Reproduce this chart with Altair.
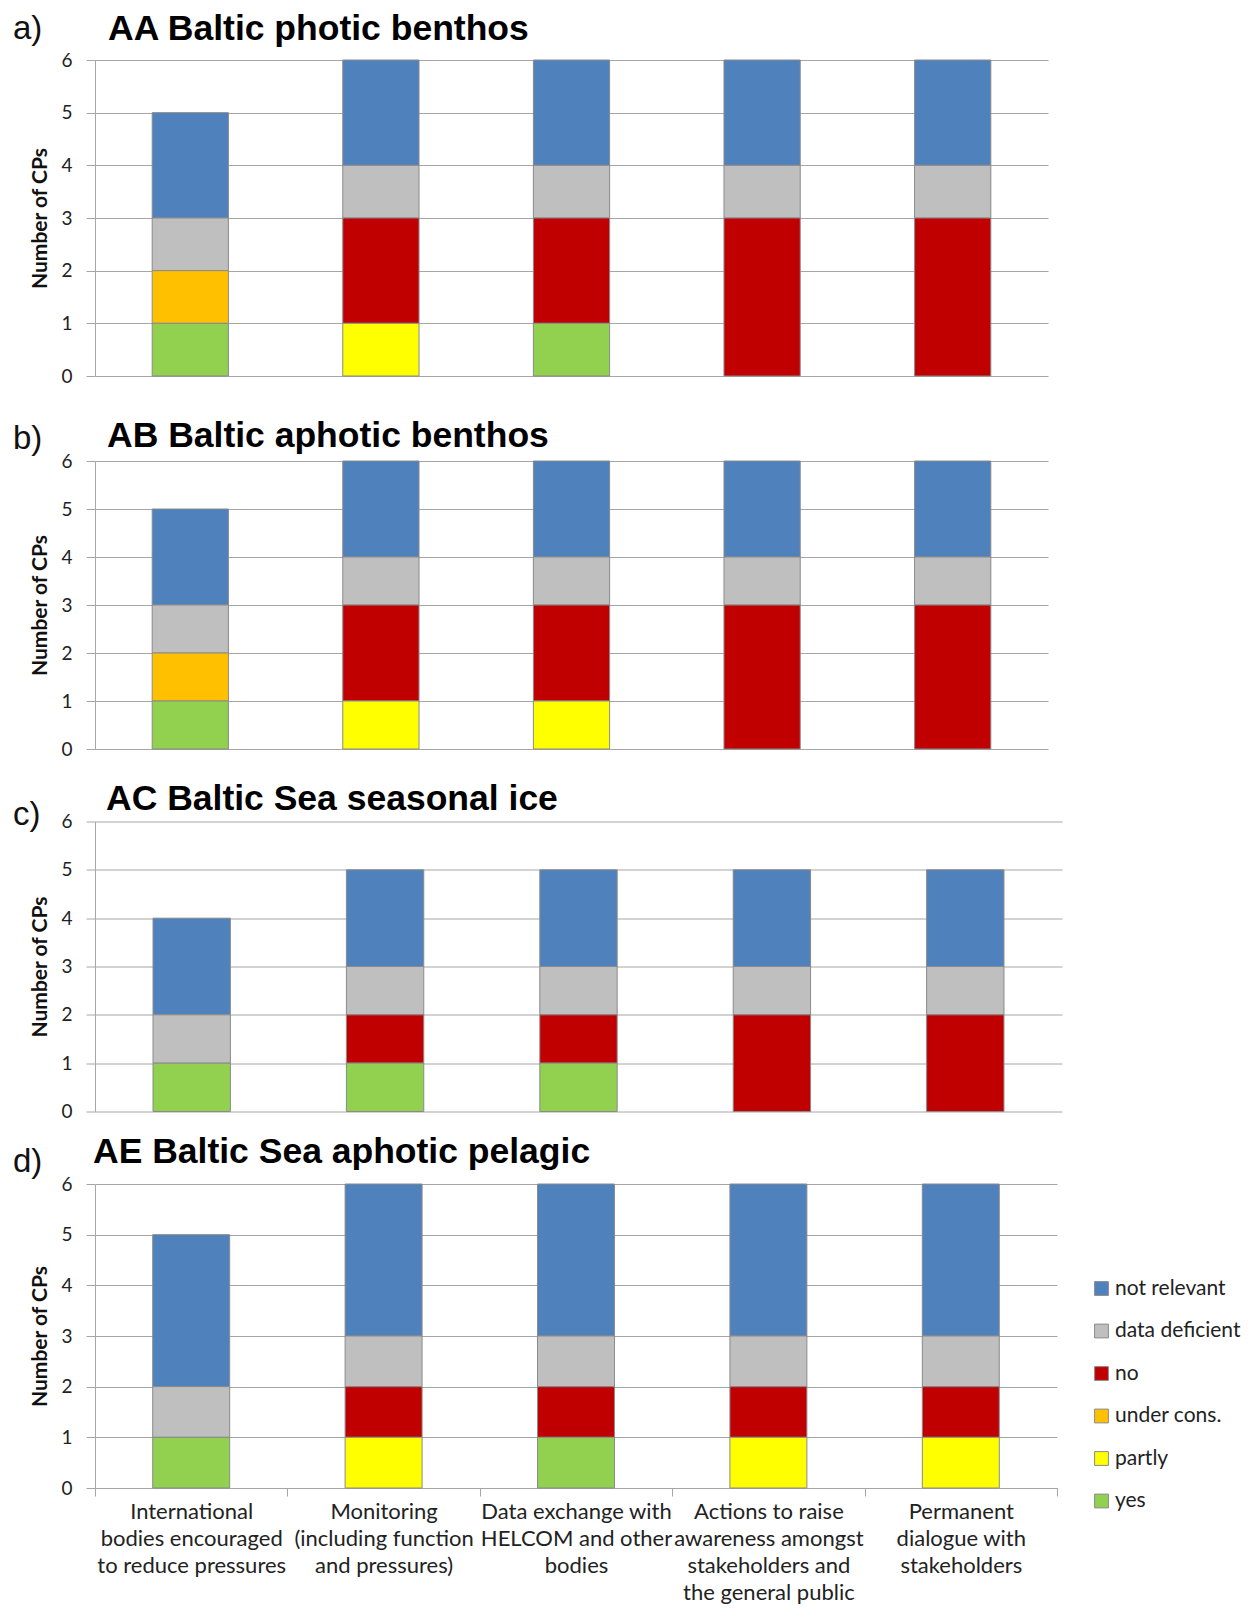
import altair as alt
import pandas as pd

categories = [
    "International|bodies encouraged|to reduce pressures",
    "Monitoring|(including function|and pressures)",
    "Data exchange with|HELCOM and other|bodies",
    "Actions  to raise|awareness amongst|stakeholders and|the general public",
    "Permanent|dialogue with|stakeholders",
]
statuses = ["not relevant", "data deficient", "no", "under cons.", "partly", "yes"]
colors = ["#4F81BD", "#BFBFBF", "#C00000", "#FFC000", "#FFFF00", "#92D050"]

panel_letters = ["a)", "b)", "c)", "d)"]
panel_titles = [
    "AA Baltic photic benthos",
    "AB Baltic aphotic benthos",
    "AC Baltic Sea seasonal ice",
    "AE Baltic Sea aphotic pelagic",
]

# counts per category (same order as categories), per status
aa_counts = {
    "not relevant":   [2, 2, 2, 2, 2],
    "data deficient": [1, 1, 1, 1, 1],
    "no":             [0, 2, 2, 3, 3],
    "under cons.":    [1, 0, 0, 0, 0],
    "partly":         [0, 1, 0, 0, 0],
    "yes":            [1, 0, 1, 0, 0],
}
ab_counts = {
    "not relevant":   [2, 2, 2, 2, 2],
    "data deficient": [1, 1, 1, 1, 1],
    "no":             [0, 2, 2, 3, 3],
    "under cons.":    [1, 0, 0, 0, 0],
    "partly":         [0, 1, 1, 0, 0],
    "yes":            [1, 0, 0, 0, 0],
}
ac_counts = {
    "not relevant":   [2, 2, 2, 2, 2],
    "data deficient": [1, 1, 1, 1, 1],
    "no":             [0, 1, 1, 2, 2],
    "under cons.":    [0, 0, 0, 0, 0],
    "partly":         [0, 0, 0, 0, 0],
    "yes":            [1, 1, 1, 0, 0],
}
ae_counts = {
    "not relevant":   [3, 3, 3, 3, 3],
    "data deficient": [1, 1, 1, 1, 1],
    "no":             [0, 1, 1, 1, 1],
    "under cons.":    [0, 0, 0, 0, 0],
    "partly":         [0, 1, 0, 1, 1],
    "yes":            [1, 0, 1, 0, 0],
}
y_ticks = [0, 1, 2, 3, 4, 5, 6]

FONT = "Lato"
HEAD_FONT = "Liberation Sans"
GRID = "#a6a6a6"


def make_df(counts):
    rows = []
    for s_i, s in enumerate(statuses):
        for c_i, c in enumerate(categories):
            v = counts[s][c_i]
            if v > 0:
                rows.append({"category": c, "status": s, "count": v,
                             "rank": len(statuses) - 1 - s_i})
    return pd.DataFrame(rows)


def panel(counts, letter, title, width, height, title_dx, title_y, letter_y, last):
    df = make_df(counts)
    if last:
        x_axis = alt.Axis(title=None, labelAngle=0, tickBand="extent",
                          labelExpr="split(datum.label, '|')",
                          labelFont=FONT, labelFontSize=22, labelColor="#222",
                          labelLineHeight=27.3, labelPadding=5, labelLimit=400,
                          tickSize=8, tickColor=GRID, domainColor=GRID,
                          grid=False, labelBaseline="top")
        legend = alt.Legend(title=None, orient="none", legendX=996, legendY=94,
                            symbolType="square", symbolSize=190,
                            symbolStrokeWidth=1, labelFont=FONT, labelFontSize=21,
                            labelColor="#222", labelOffset=3, rowPadding=20.5,
                            padding=0)
    else:
        x_axis = None
        legend = None

    bars = alt.Chart(df).mark_bar(
        width=alt.RelativeBandSize(0.4), stroke="#8a8a8a", strokeWidth=1
    ).encode(
        x=alt.X("category:N", sort=categories, axis=x_axis,
                scale=alt.Scale(paddingInner=0, paddingOuter=0, domain=categories)),
        y=alt.Y("sum(count):Q", stack="zero",
                scale=alt.Scale(domain=[0, 6], nice=False),
                axis=alt.Axis(title="Number of CPs", values=y_ticks, format="d",
                              grid=True, gridColor=GRID, tickColor=GRID,
                              domainColor=GRID, tickSize=9, labelPadding=14,
                              labelFont=FONT, labelFontSize=19, labelColor="#222",
                              titleFont=FONT, titleFontSize=21, titleFontWeight="bold",
                              titleColor="#111", titlePadding=10)),
        color=alt.Color("status:N", scale=alt.Scale(domain=statuses, range=colors),
                        legend=legend),
        order=alt.Order("rank:Q"),
    )

    letter_text = alt.Chart(pd.DataFrame({"t": [letter]})).mark_text(
        align="left", baseline="alphabetic", font=HEAD_FONT, fontSize=33, color="#111"
    ).encode(text="t:N", x=alt.value(-82), y=alt.value(letter_y))

    title_text = alt.Chart(pd.DataFrame({"t": [title]})).mark_text(
        align="left", baseline="alphabetic", font=HEAD_FONT, fontSize=35.5,
        fontWeight="bold", color="#000"
    ).encode(text="t:N", x=alt.value(title_dx), y=alt.value(title_y))

    return alt.layer(bars, letter_text, title_text).properties(
        width=width, height=height
    ).resolve_scale(color="independent")


pa = panel(aa_counts, panel_letters[0], panel_titles[0], 953, 316, 13, -20, -21, False)
pb = panel(ab_counts, panel_letters[1], panel_titles[1], 953, 288, 12, -14, -12, False)
pc = panel(ac_counts, panel_letters[2], panel_titles[2], 967, 290, 11, -12, 3, False)
pd_ = panel(ae_counts, panel_letters[3], panel_titles[3], 962, 304, -2, -21, -12, True)

inner = alt.vconcat(pb, pc, pd_, spacing=72.5, bounds="flush").resolve_scale(color="independent")
chart = alt.vconcat(pa, inner, spacing=85, bounds="flush").resolve_scale(
    color="independent"
).properties(padding={"left": 5, "top": 4, "right": 0, "bottom": 0}).configure_view(
    stroke=None
)

chart.save("out.html", embed_options={"renderer": "svg", "actions": False})
